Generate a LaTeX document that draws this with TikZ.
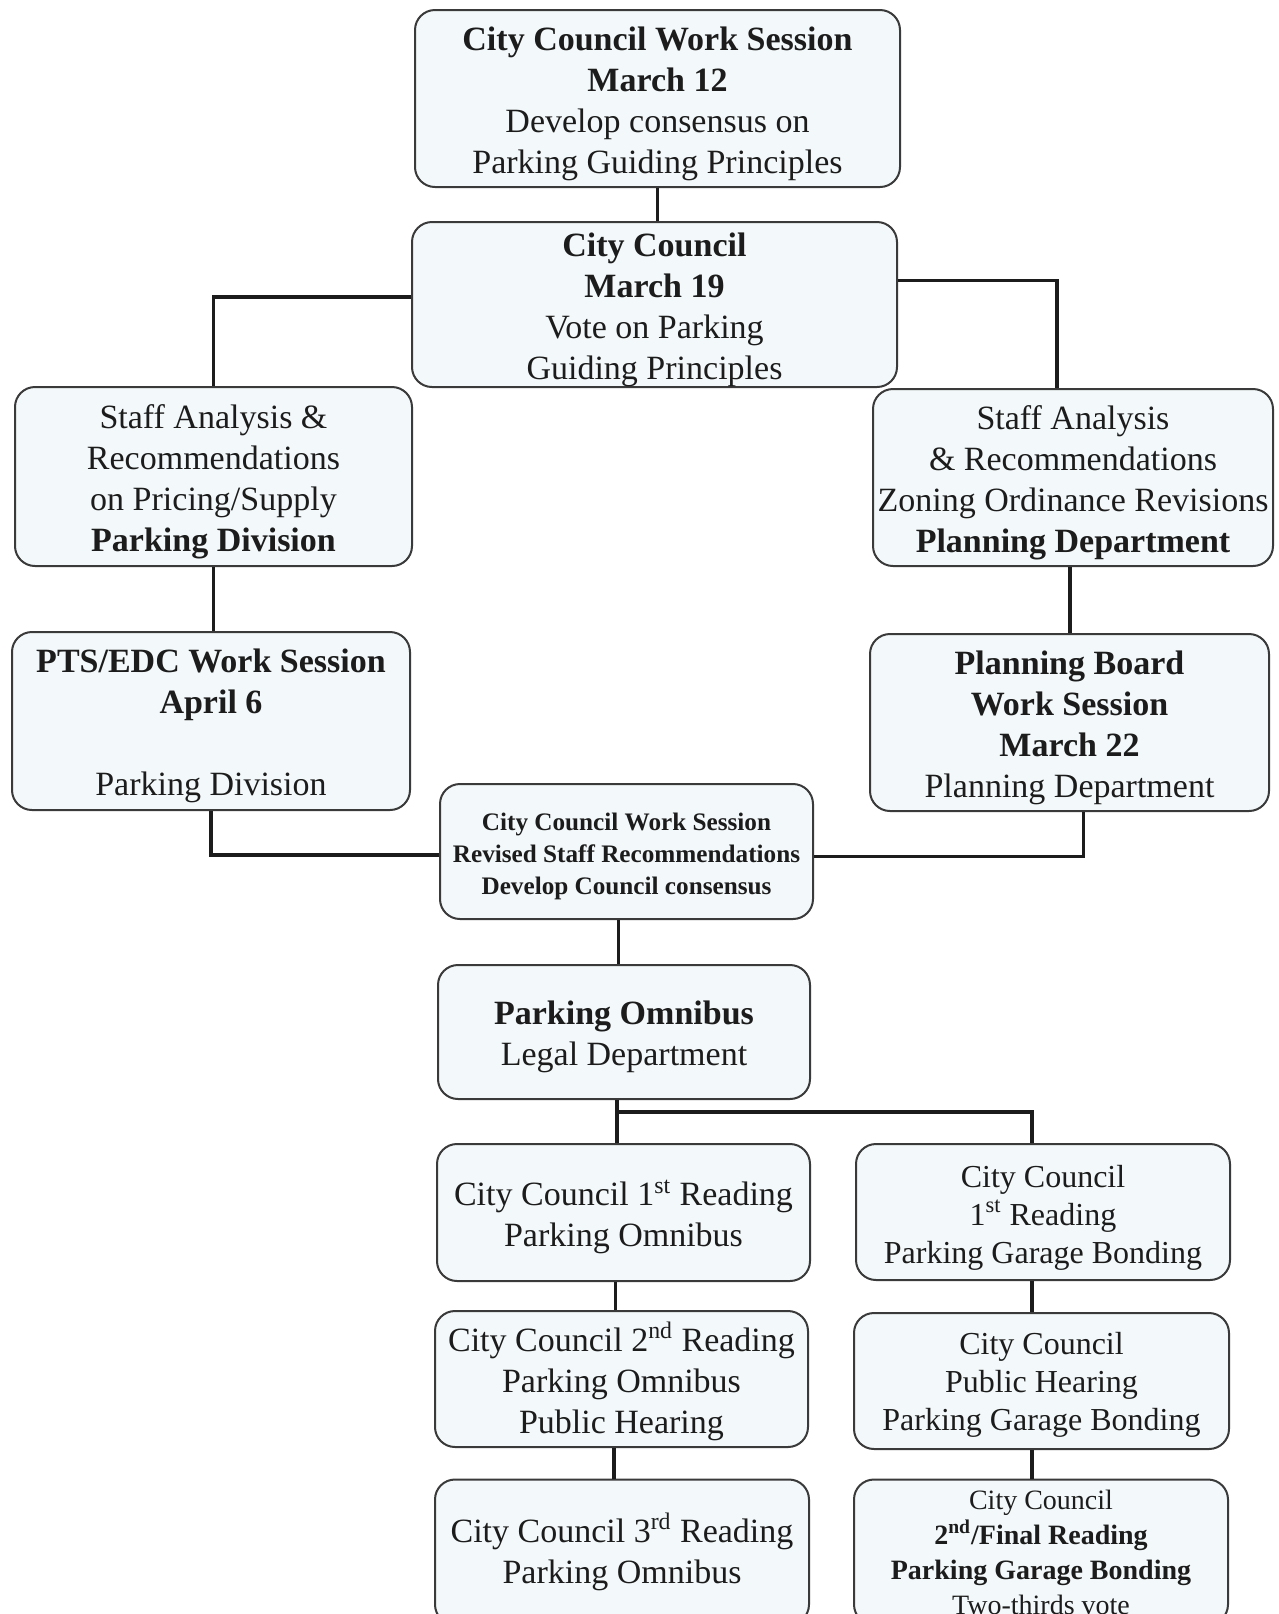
\documentclass[tikz,border=0pt]{standalone}
\usepackage{fontspec}
\setmainfont{Liberation Serif}
\usepackage{tikz}
\usetikzlibrary{calc}
\definecolor{cpink}{HTML}{1C1C1C}
\definecolor{cpline}{HTML}{3A3A3A}
\definecolor{cpfill}{HTML}{F3F8FA}
\newcommand{\tp}[1]{\rule{0pt}{#1}}
\tikzset{
  bx/.style={rounded corners=10pt, draw=cpline, fill=cpfill, line width=1pt, align=center, inner sep=0pt, text=cpink, font=\fontsize{17}{20.5}\selectfont},
  sml/.style={bx, font=\fontsize{12.6}{16}\selectfont},
  mid/.style={bx, font=\fontsize{16}{19}\selectfont},
  fin/.style={bx, font=\fontsize{14}{17.5}\selectfont},
  link/.style={draw=cpink, line width=1.6pt},
}

\begin{document}
\begin{tikzpicture}[x=0.5pt, y=-0.5pt]
  \useasboundingbox[fill=white] (0,0) rectangle (1279,1614);
  \node[bx, minimum width=242.5pt, minimum height=88.5pt] (cws) at (657.5,98.5) {\tp{17pt}\textbf{City Council Work Session}\\\textbf{March 12}\\Develop consensus on\\Parking Guiding Principles};
  \node[bx, minimum width=242.5pt, minimum height=82.5pt] (vote) at (654.5,304.5) {\tp{17pt}\textbf{City Council}\\\textbf{March 19}\\Vote on Parking\\Guiding Principles};
  \node[bx, minimum width=198.5pt, minimum height=89.5pt] (staffl) at (213.5,476.5) {\tp{17pt}Staff Analysis \&\\Recommendations\\on Pricing/Supply\\\textbf{Parking Division}};
  \node[bx, minimum width=200pt, minimum height=88.5pt] (staffr) at (1073,477.5) {\tp{17pt}Staff Analysis\\\& Recommendations\\Zoning Ordinance Revisions\\\textbf{Planning Department}};
  \node[bx, minimum width=199pt, minimum height=89pt] (pts) at (211,721) {\tp{17pt}\textbf{PTS/EDC Work Session}\\\textbf{April 6}\\[20.5pt]Parking Division};
  \node[bx, minimum width=199.5pt, minimum height=88.5pt] (pboard) at (1069.5,722.5) {\tp{17pt}\textbf{Planning Board}\\\textbf{Work Session}\\\textbf{March 22}\\Planning Department};
  \node[sml, minimum width=186.5pt, minimum height=67.5pt] (rws) at (626.5,851.5) {\tp{13.5pt}\textbf{City Council Work Session}\\\textbf{Revised Staff Recommendations}\\\textbf{Develop Council consensus}};
  \node[bx, minimum width=186pt, minimum height=67pt] (omni) at (624,1032) {\tp{17pt}\textbf{Parking Omnibus}\\Legal Department};
  \node[bx, minimum width=186.5pt, minimum height=68.5pt] (ro1) at (623.5,1212.5) {\tp{17.5pt}City Council 1\textsuperscript{st} Reading\\Parking Omnibus};
  \node[mid, minimum width=187pt, minimum height=68pt] (gb1) at (1043,1212) {\tp{16.5pt}City Council\\1\textsuperscript{st} Reading\\Parking Garage Bonding};
  \node[bx, minimum width=186.5pt, minimum height=68pt] (ro2) at (621.5,1379) {\tp{17pt}City Council 2\textsuperscript{nd} Reading\\Parking Omnibus\\Public Hearing};
  \node[mid, minimum width=187.5pt, minimum height=68pt] (gb2) at (1041.5,1381) {\tp{15pt}City Council\\Public Hearing\\Parking Garage Bonding};
  \node[bx, minimum width=187pt, minimum height=72.5pt] (ro3) at (622,1552) {\tp{14pt}City Council 3\textsuperscript{rd} Reading\\Parking Omnibus};
  \node[fin, minimum width=187pt, minimum height=72.5pt] (gb3) at (1041,1552) {City Council\\\textbf{2\textsuperscript{nd}/Final Reading}\\\textbf{Parking Garage Bonding}\\Two-thirds vote};
  % connectors
  \draw[link] (cws.south) -- (cws.south |- vote.north);
  \draw[link] ([yshift=3.75pt]vote.west) -| (staffl.north);
  \draw[link] ([yshift=12pt]vote.east) -| ([xshift=-8pt]staffr.north);
  \draw[link] (staffl.south) -- (staffl.south |- pts.north);
  \draw[link] ([xshift=-1.5pt]staffr.south) -- ([xshift=-1.5pt]staffr.south |- pboard.north);
  \draw[link] (pts.south) |- ([yshift=-1.75pt]rws.west);
  \draw[link] ([xshift=7pt]pboard.south) |- ([yshift=-2.5pt]rws.east);
  \draw[link] ([xshift=-4pt]rws.south) -- ([xshift=-4pt]rws.south |- omni.north);
  \draw[link] ([xshift=-3.5pt]omni.south) -- ([xshift=-3.5pt]omni.south |- ro1.north);
  \coordinate (split) at ([xshift=-3.5pt, yshift=-6pt]omni.south);
  \draw[link] (split) -| ([xshift=-5.5pt]gb1.north);
  \draw[link] ([xshift=-4pt]ro1.south) -- ([xshift=-4pt]ro1.south |- ro2.north);
  \draw[link] ([xshift=-3.75pt]ro2.south) -- ([xshift=-3.75pt]ro2.south |- ro3.north);
  \draw[link] ([xshift=-5.5pt]gb1.south) -- ([xshift=-5.5pt]gb1.south |- gb2.north);
  \draw[link] ([xshift=-4.75pt]gb2.south) -- ([xshift=-4.75pt]gb2.south |- gb3.north);
\end{tikzpicture}
\end{document}
